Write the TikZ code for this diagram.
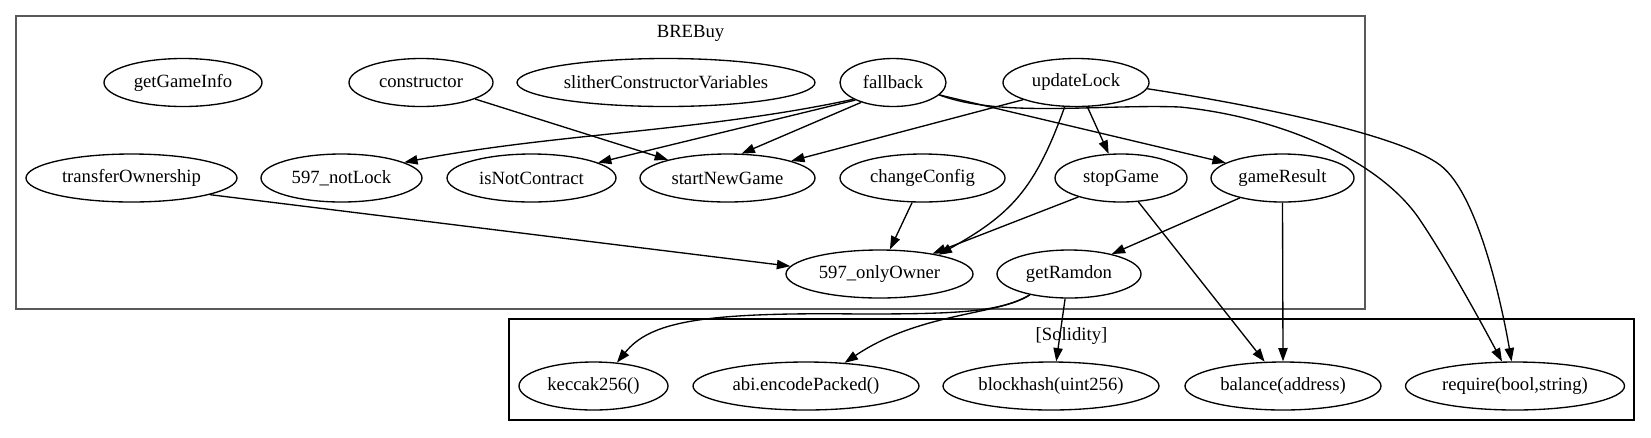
\documentclass[tikz,border=0pt]{standalone}
\usepackage{fontspec}
\setmainfont{Liberation Serif}
\usetikzlibrary{shapes.geometric,arrows.meta}
\begin{document}
\begin{tikzpicture}[x=0.75pt,y=-0.75pt,
  fn/.style={ellipse,draw,line width=1pt,minimum height=36pt,minimum width=#1*0.75pt,inner sep=0pt,font=\fontsize{14}{16}\selectfont},
  lbl/.style={inner sep=0pt,font=\fontsize{14}{16}\selectfont},
  edge/.style={line width=1pt,-{Triangle[length=10pt,width=7pt]}},
  clusterA/.style={draw=black!65,line width=1.3pt},
  clusterB/.style={draw=black,line width=0.8pt}]
\useasboundingbox (0,0) rectangle (1651,437);
% clusters
\draw[clusterA] (16,16) rectangle (1365,309);
\node[lbl] (brebuyLabel) at (690.5,33) {BREBuy};
\draw[clusterB] (509,319) rectangle (1634,420);
\node[lbl] (solLabel) at (1071.5,336) {[Solidity]};
% nodes
\node[fn=158] (getGameInfo) at (183,82.5) {getGameInfo};
\node[fn=144] (constructor) at (421,82.5) {constructor};
\node[fn=298] (slither) at (666,82.5) {slitherConstructorVariables};
\node[fn=106] (fallback) at (893,82.5) {fallback};
\node[fn=146] (updateLock) at (1076,82.5) {updateLock};
\node[fn=211] (transferOwnership) at (131.5,178) {transferOwnership};
\node[fn=161] (notLock) at (341.5,178) {597\_notLock};
\node[fn=169] (isNotContract) at (531.5,178) {isNotContract};
\node[fn=175] (startNewGame) at (727.5,178) {startNewGame};
\node[fn=165] (changeConfig) at (922.5,178) {changeConfig};
\node[fn=132] (stopGame) at (1121,178) {stopGame};
\node[fn=143] (gameResult) at (1282.5,178) {gameResult};
\node[fn=187] (onlyOwner) at (879.5,274) {597\_onlyOwner};
\node[fn=144] (getRamdon) at (1069,274) {getRamdon};
\node[fn=149] (keccak) at (593.5,386) {keccak256()};
\node[fn=226] (abi) at (806,386) {abi.encodePacked()};
\node[fn=216] (blockhash) at (1051,386) {blockhash(uint256)};
\node[fn=196] (balance) at (1283,386) {balance(address)};
\node[fn=219] (require) at (1515,386) {require(bool,string)};
% edges
\draw[edge] (constructor.-17.6) -- (startNewGame.163);
\draw[edge] (fallback.-157.6) .. controls (700,132) and (553,133.5) .. (notLock.14.5);
\draw[edge] (fallback.-155) -- (isNotContract.13);
\draw[edge] (fallback.-148.6) -- (startNewGame.60);
\draw[edge] (updateLock.-162.7) -- (startNewGame.15.5);
\draw[edge] (fallback.-15.5) -- (gameResult.165.3);
\draw[edge] (fallback.-15.5) .. controls (1000,118) and (1100,104) .. (1180,107)
   .. controls (1280,117) and (1380,160) .. (1420,220)
   .. controls (1447,260) and (1482,324) .. (require.118);
\draw[edge] (updateLock.-5.3) .. controls (1260,106) and (1400,135) .. (1440,165)
   .. controls (1480,195) and (1504,317) .. (require.98);
\draw[edge] (updateLock.-65) -- (stopGame.117);
\draw[edge] (updateLock.-115) .. controls (1035,190) and (1010,215) .. (onlyOwner.18);
\draw[edge] (stopGame.-156.6) -- (onlyOwner.21);
\draw[edge] (changeConfig.-113.6) -- (onlyOwner.67);
\draw[edge] (transferOwnership.-12.2) -- (onlyOwner.175);
\draw[edge] (stopGame.-54.7) -- (balance.127);
\draw[edge] (gameResult.south) -- (balance.north);
\draw[edge] (gameResult.-155.7) -- (getRamdon.25);
\draw[edge] (getRamdon.-152.9) .. controls (1000,312) and (960,314) .. (860,314)
   .. controls (700,312) and (650,322) .. (keccak.45);
\draw[edge] (getRamdon.-152.9) .. controls (1000,315) and (920,312) .. (abi.31.5);
\draw[edge] (getRamdon.-99.5) -- (blockhash.78);
\end{tikzpicture}
\end{document}
